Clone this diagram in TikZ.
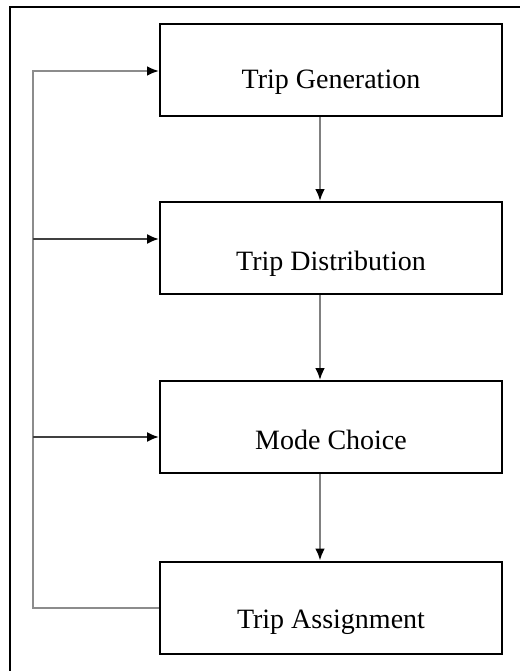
\documentclass[tikz,border=0pt]{standalone}
\usepackage{fontspec}
\setmainfont{Liberation Serif}
\usetikzlibrary{arrows.meta}
\begin{document}
\begin{tikzpicture}[x=1pt,y=-1pt,
  box/.style={draw=black, line width=2pt, minimum width=342pt, minimum height=92pt, inner sep=0pt},
  txt/.style={anchor=base, font=\fontsize{28}{32}\selectfont, inner sep=0pt},
  tip/.style={-{Latex[black,length=12pt,width=10pt]}},
  flow/.style={draw=black!50, line width=2.4pt, tip},
  fb/.style={draw=black!45, line width=2.4pt},
  branch/.style={draw=black!75, line width=2pt, tip}]
\useasboundingbox (0,0) rectangle (520,671);
\fill[white] (0,0) rectangle (520,671);
\draw[line width=2.2pt] (10,671) -- (10,7) -- (520,7);
\node[box] (gen) at (331,70.5) {};
\node[box] (dist) at (331,248) {};
\node[box] (mode) at (331,427) {};
\node[box] (assign) at (331,607.5) {};
\node[txt] (tgen) at (331,89) {Trip Generation};
\node[txt] (tdist) at (331,270) {Trip Distribution};
\node[txt] (tmode) at (331,449) {Mode Choice};
\node[txt] (tassign) at (331,628) {Trip Assignment};
\coordinate (g1) at (320,0);
\draw[flow] (gen.south -| g1) -- (dist.north -| g1);
\draw[flow] (dist.south -| g1) -- (mode.north -| g1);
\draw[flow] (mode.south -| g1) -- (assign.north -| g1);
\coordinate (c1) at (33,608);
\coordinate (c2) at (33,71);
\coordinate (b2) at (33,239);
\coordinate (b3) at (33,437);
\draw[fb, tip] (assign.west |- c1) -- (c1) -- (c2) -- (gen.west |- c2);
\draw[branch] (b2) -- (dist.west |- b2);
\draw[branch] (b3) -- (mode.west |- b3);
\end{tikzpicture}
\end{document}
